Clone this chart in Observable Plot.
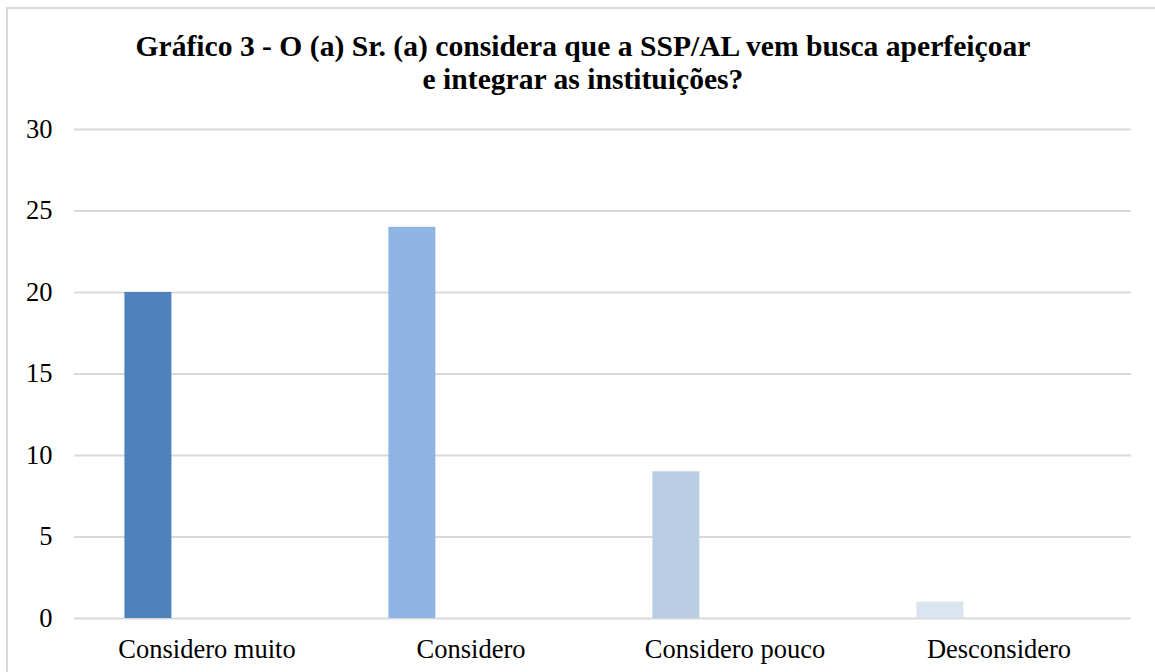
<!DOCTYPE html>
<html>
<head>
<meta charset="utf-8">
<script src="https://cdn.jsdelivr.net/npm/d3@7"></script>
<script src="https://cdn.jsdelivr.net/npm/@observablehq/plot@0.6"></script>
<style>
  html, body { margin: 0; padding: 0; background: #fff; }
  #wrap { position: relative; width: 1155px; height: 672px; overflow: hidden; background: #fff; }
  #frame { position: absolute; left: 6px; top: 7px; width: 1170px; height: 690px; border: 2px solid #d9d9d9; box-sizing: border-box; pointer-events: none; }
  #title { position: relative; height: 100px; box-sizing: border-box; padding-top: 30px; padding-left: 11px;
    font-family: "Liberation Serif", "Times New Roman", serif; font-weight: bold; font-size: 29.6px; line-height: 33px;
    text-align: center; color: #000; white-space: nowrap; }
  #chart { position: relative; }
  #chart svg { overflow: visible; }
</style>
</head>
<body>
<div id="wrap">
  <div id="frame"></div>
  <div id="title">Gráfico 3 - O (a) Sr. (a) considera que a SSP/AL vem busca aperfeiçoar<br>e integrar as instituições?</div>
  <div id="chart"></div>
</div>
<script>
const categories = ["Considero muito", "Considero", "Considero pouco", "Desconsidero"];
const values = [20, 24, 9, 1];
const colors = ["#4f81bd", "#8eb4e3", "#b9cde5", "#dbe5f1"];
const yTicks = [0, 5, 10, 15, 20, 25, 30];

const data = categories.map((c, i) => ({category: c, value: values[i], color: colors[i]}));

const plot = Plot.plot({
  width: 1155,
  height: 572,
  marginTop: 29,
  marginBottom: 54,
  marginLeft: 74,
  marginRight: 24,
  style: {
    fontFamily: "'Liberation Serif', 'Times New Roman', serif",
    fontSize: "26.5px",
    color: "#000",
    background: "transparent",
    overflow: "visible"
  },
  x: {
    type: "band",
    domain: categories,
    paddingInner: 0.822,
    paddingOuter: 0.411,
    label: null
  },
  y: {
    domain: [0, 30],
    ticks: yTicks,
    label: null
  },
  color: { domain: categories, range: colors },
  marks: [
    Plot.gridY(yTicks, { stroke: "#d9d9d9", strokeOpacity: 1, strokeWidth: 2 }),
    Plot.barY(data, { x: "category", y: "value", fill: "category", dx: -58.6 }),
    Plot.axisY(yTicks, { tickSize: 0, tickPadding: 22, label: null, fill: "#000" }),
    Plot.axisX({ tickSize: 0, tickPadding: 21, label: null, fill: "#000" })
  ]
});
document.getElementById("chart").appendChild(plot);
</script>
</body>
</html>
